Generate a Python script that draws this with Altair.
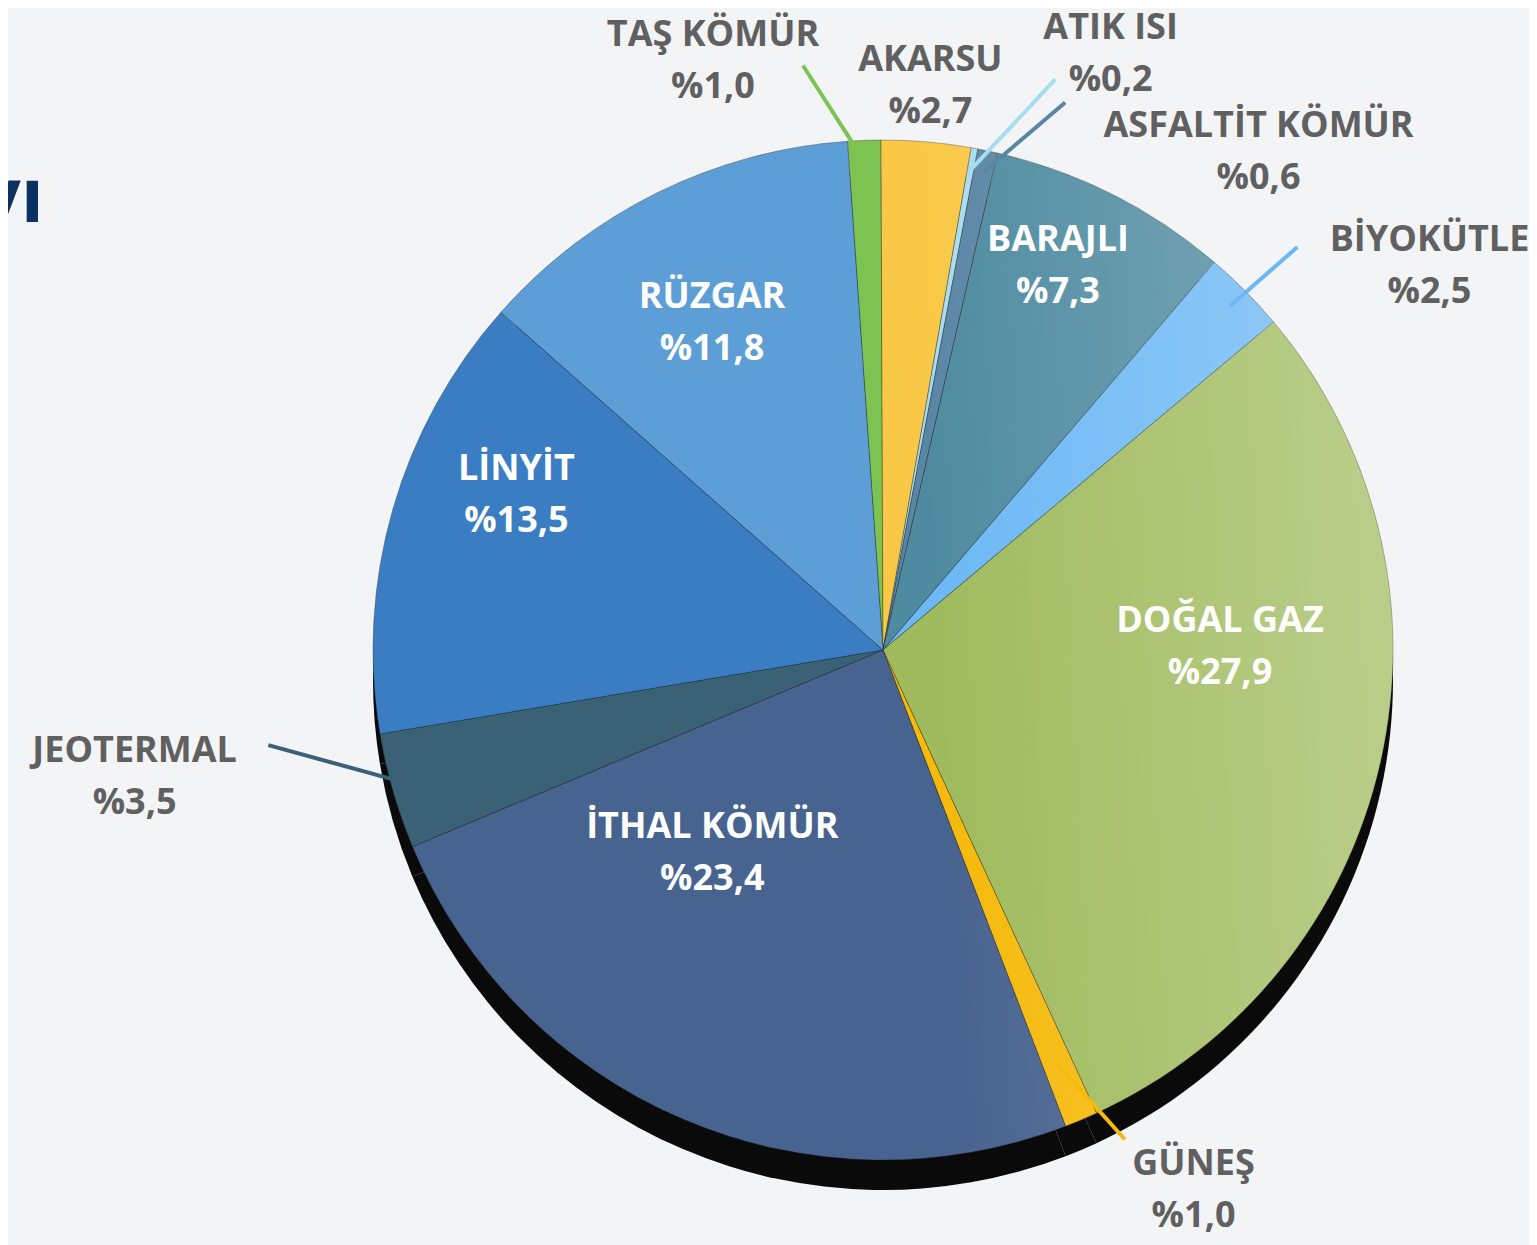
import math
import altair as alt
import pandas as pd

# ---------------- data ----------------
names = ["TAŞ KÖMÜR", "AKARSU", "ATIK ISI", "ASFALTİT KÖMÜR", "BARAJLI", "BİYOKÜTLE",
         "DOĞAL GAZ", "GÜNEŞ", "İTHAL KÖMÜR", "JEOTERMAL", "LİNYİT", "RÜZGAR"]
values = [1.0, 2.7, 0.2, 0.6, 7.3, 2.5, 27.9, 1.0, 23.4, 3.5, 13.5, 11.8]
colors = ["#7DC352", "#F9C846", "#A8DDEF", "#5A86A5", "#4F8BA0", "#6CB8F5",
          "#A0BB5E", "#F5BA0C", "#47638F", "#3A6175", "#3A7DC2", "#5E9ED6"]

# ---------------- layout (styling only) ----------------
CX, CY = 875, 642          # pie centre in chart pixels
R = 510                    # pie radius
START = math.radians(-4)   # angle where the first slice starts
SHADOW_DY = 30
LINE_H = 52

# label block placement: (angle deg, radius px, inside?)
label_layout = {
    "TAŞ KÖMÜR": (-16.1, 613, False),
    "AKARSU": (4.8, 566, False),
    "ATIK ISI": (20.9, 638, False),
    "ASFALTİT KÖMÜR": (37.0, 624, False),
    "BARAJLI": (24.5, 422, True),
    "BİYOKÜTLE": (54.9, 668, False),
    "DOĞAL GAZ": (89.5, 337, True),
    "GÜNEŞ": (150.1, 623, False),
    "İTHAL KÖMÜR": (220.1, 265, True),
    "JEOTERMAL": (260.4, 759, False),
    "LİNYİT": (292.9, 398, True),
    "RÜZGAR": (332.4, 369, True),
}
# leader lines: (inner radius px, outer angle deg, outer radius px)
leader_layout = {
    "TAŞ KÖMÜR": (R - 22, -7.8, 590),
    "ATIK ISI": (R - 22, 16.8, 596),
    "ASFALTİT KÖMÜR": (R - 22, 18.4, 577),
    "BİYOKÜTLE": (R - 22, 45.8, 578),
    "GÜNEŞ": (R - 60, 153.7, 546),
    "JEOTERMAL": (R - 22, 261.2, 622),
}


def polar(angle_rad, r):
    return CX + r * math.sin(angle_rad), CY - r * math.cos(angle_rad)


total = sum(values)
mids = {}
acc = 0.0
for n, v in zip(names, values):
    mids[n] = START + (acc + v / 2) / total * 2 * math.pi
    acc += v

pie_df = pd.DataFrame({"name": names, "value": values, "idx": list(range(len(names)))})

lab_rows = []
for n, v in zip(names, values):
    a, r, inside = label_layout[n]
    x, y = polar(math.radians(a), r)
    lab_rows.append({"name": n, "text": n + "\n%" + f"{v:.1f}".replace(".", ","),
                     "px": x, "py": y - LINE_H / 2, "inside": inside})
lab_df = pd.DataFrame(lab_rows)

lead_rows = []
for n, (ri, a, r) in leader_layout.items():
    x1, y1 = polar(mids[n], ri)
    x2, y2 = polar(math.radians(a), r)
    lead_rows.append({"name": n, "x1": x1, "y1": y1, "x2": x2, "y2": y2,
                      "c": colors[names.index(n)]})
lead_df = pd.DataFrame(lead_rows)

color_scale = alt.Scale(domain=names, range=colors)
theta_enc = alt.Theta("value:Q", stack=True,
                      scale=alt.Scale(range=[START, START + 2 * math.pi]))

shadow = alt.Chart(pie_df).mark_arc(outerRadius=R, color="#0a0a0a").encode(
    theta=theta_enc, order=alt.Order("idx:Q"),
    x=alt.value(CX), y=alt.value(CY + SHADOW_DY),
)

pie = alt.Chart(pie_df).mark_arc(outerRadius=R, stroke="#2a2a2a", strokeWidth=0.8,
                                 strokeOpacity=0.45).encode(
    theta=theta_enc,
    color=alt.Color("name:N", scale=color_scale, legend=None),
    order=alt.Order("idx:Q"),
    x=alt.value(CX), y=alt.value(CY),
)

# one light overlay over the whole disc (3-D sheen towards the right)
shine = alt.Chart(pd.DataFrame({"k": [1]})).mark_arc(
    outerRadius=R, theta=0, theta2=2 * math.pi,
    color=alt.Gradient(
        gradient="linear", x1=0, y1=0.5, x2=1, y2=0.45,
        stops=[alt.GradientStop(offset=0, color="rgba(255,255,255,0)"),
               alt.GradientStop(offset=0.55, color="rgba(255,255,255,0)"),
               alt.GradientStop(offset=1, color="rgba(255,255,255,0.28)")],
    ),
).encode(x=alt.value(CX), y=alt.value(CY))

leaders = alt.Chart(lead_df).mark_rule(strokeWidth=4).encode(
    x=alt.X("x1:Q", scale=None, axis=None),
    y=alt.Y("y1:Q", scale=None, axis=None),
    x2="x2:Q", y2="y2:Q",
    color=alt.Color("c:N", scale=None),
)

text_style = dict(font="Open Sans", fontWeight="bold", fontSize=36, lineBreak="\n",
                  lineHeight=LINE_H, align="center", baseline="middle")
labels_out = alt.Chart(lab_df).transform_filter("!datum.inside").mark_text(
    color="#606060", **text_style).encode(
    x=alt.X("px:Q", scale=None, axis=None),
    y=alt.Y("py:Q", scale=None, axis=None),
    text="text:N",
)
labels_in = alt.Chart(lab_df).transform_filter("datum.inside").mark_text(
    color="#FFFFFF", **text_style).encode(
    x=alt.X("px:Q", scale=None, axis=None),
    y=alt.Y("py:Q", scale=None, axis=None),
    text="text:N",
)

title_frag = alt.Chart(pd.DataFrame({"t": ["yı"]})).mark_text(
    font="Open Sans", fontWeight="bold", fontSize=76, align="right", baseline="alphabetic",
    color="#0B3162").encode(x=alt.value(36), y=alt.value(214), text="t:N")

chart = alt.layer(shadow, pie, shine, leaders, labels_out, labels_in, title_frag).properties(
    width=1521, height=1237, padding=0, autosize=alt.AutoSizeParams(type="none"),
    background="#F3F4F5",
).configure_view(stroke=None)

chart.save("out.html", embed_options={"renderer": "svg", "actions": False})
